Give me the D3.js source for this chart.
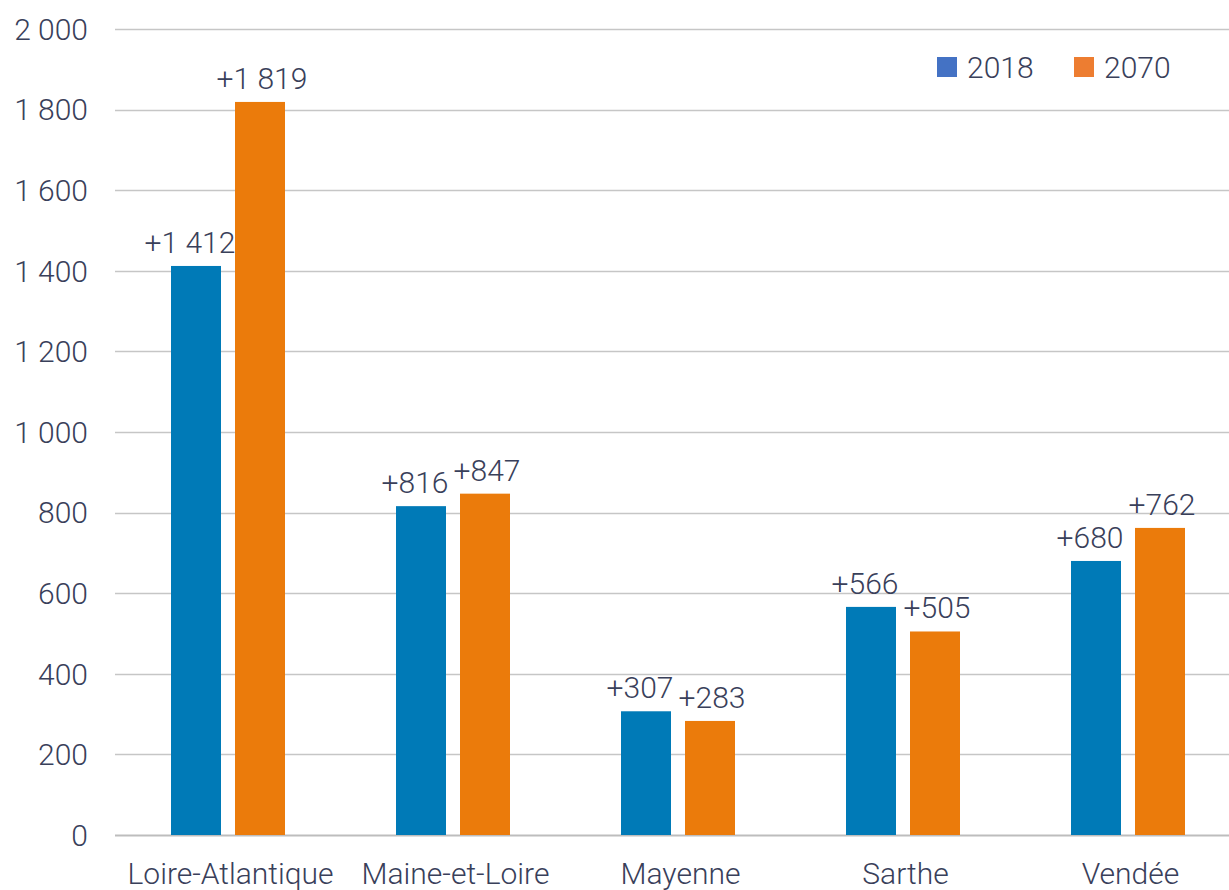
<!DOCTYPE html>
<html>
<head>
<meta charset="utf-8">
<script src="https://cdn.jsdelivr.net/npm/d3@7"></script>
<style>
  body { margin: 0; background: #fff; }
  text { font-family: Roboto, "Noto Sans", sans-serif; font-weight: 300; fill: #39405a; }
</style>
</head>
<body>
<div id="chart"></div>
<script>
// data
const departements = ["Loire-Atlantique", "Maine-et-Loire", "Mayenne", "Sarthe", "Vendée"]
const series = ["2018", "2070"]
const values2018 = [1412, 816, 307, 566, 680]
const values2070 = [1819, 847, 283, 505, 762]
const yTicks = [0, 200, 400, 600, 800, 1000, 1200, 1400, 1600, 1800, 2000]

const barColors = { "2018": "#007ab7", "2070": "#eb7b0b" }
const legendColors = { "2018": "#4472c4", "2070": "#ed7d31" }

const width = 1229
const height = 890

// french number formatting: "1 412"
const fmt = n => d3.format(",")(n).replace(/,/g, " ")

const rows = departements.map((d, i) => ({
  name: d,
  vals: [
    { key: "2018", value: values2018[i] },
    { key: "2070", value: values2070[i] }
  ]
}))

const svg = d3.select("#chart")
  .append("svg")
  .attr("width", width)
  .attr("height", height)

const y = d3.scaleLinear().domain([0, 2000]).range([835, 29])

const x0 = d3.scaleBand().domain(departements).range([115, 1240]).padding(0)

const x1 = d3.scaleBand().domain(series).range([56, 170]).paddingInner(0.21875).paddingOuter(0)

// grid lines
svg.append("g")
  .selectAll("line")
  .data(yTicks)
  .join("line")
  .attr("x1", 115)
  .attr("x2", width)
  .attr("y1", d => Math.round(y(d)) + 0.5)
  .attr("y2", d => Math.round(y(d)) + 0.5)
  .attr("stroke", d => d === 0 ? "#bdbdbd" : "#c6c6c6")
  .attr("stroke-width", d => d === 0 ? 2 : 1.5)

// y tick labels
svg.append("g")
  .selectAll("text")
  .data(yTicks)
  .join("text")
  .attr("x", 88)
  .attr("y", d => y(d))
  .attr("dy", "0.36em")
  .attr("text-anchor", "end")
  .style("font-size", "30px")
  .text(d => fmt(d))

// bars
const group = svg.append("g")
  .selectAll("g")
  .data(rows)
  .join("g")
  .attr("transform", d => `translate(${x0(d.name)},0)`)

group.selectAll("rect")
  .data(d => d.vals)
  .join("rect")
  .attr("x", d => x1(d.key))
  .attr("width", x1.bandwidth())
  .attr("y", d => y(d.value))
  .attr("height", d => y(0) - y(d.value))
  .attr("fill", d => barColors[d.key])

// value labels, nudged a little like in the source
group.selectAll("text.val")
  .data(d => d.vals)
  .join("text")
  .attr("class", "val")
  .attr("x", d => x1(d.key) + x1.bandwidth() / 2 + (d.key === "2018" ? -6 : 2))
  .attr("y", d => y(d.value) - 13)
  .attr("text-anchor", "middle")
  .style("font-size", "30px")
  .text(d => "+" + fmt(d.value))

// category labels
svg.append("g")
  .selectAll("text")
  .data(departements)
  .join("text")
  .attr("x", d => x0(d) + x0.bandwidth() / 2 + 3)
  .attr("y", 884)
  .attr("text-anchor", "middle")
  .style("font-size", "30px")
  .text(d => d)

// legend
const legend = svg.append("g")
  .selectAll("g")
  .data(series)
  .join("g")
  .attr("transform", (d, i) => `translate(${937 + i * 137},57)`)

legend.append("rect")
  .attr("width", 20)
  .attr("height", 20)
  .attr("fill", d => legendColors[d])

legend.append("text")
  .attr("x", 30)
  .attr("y", 10)
  .attr("dy", "0.36em")
  .style("font-size", "30px")
  .text(d => d)
</script>
</body>
</html>
